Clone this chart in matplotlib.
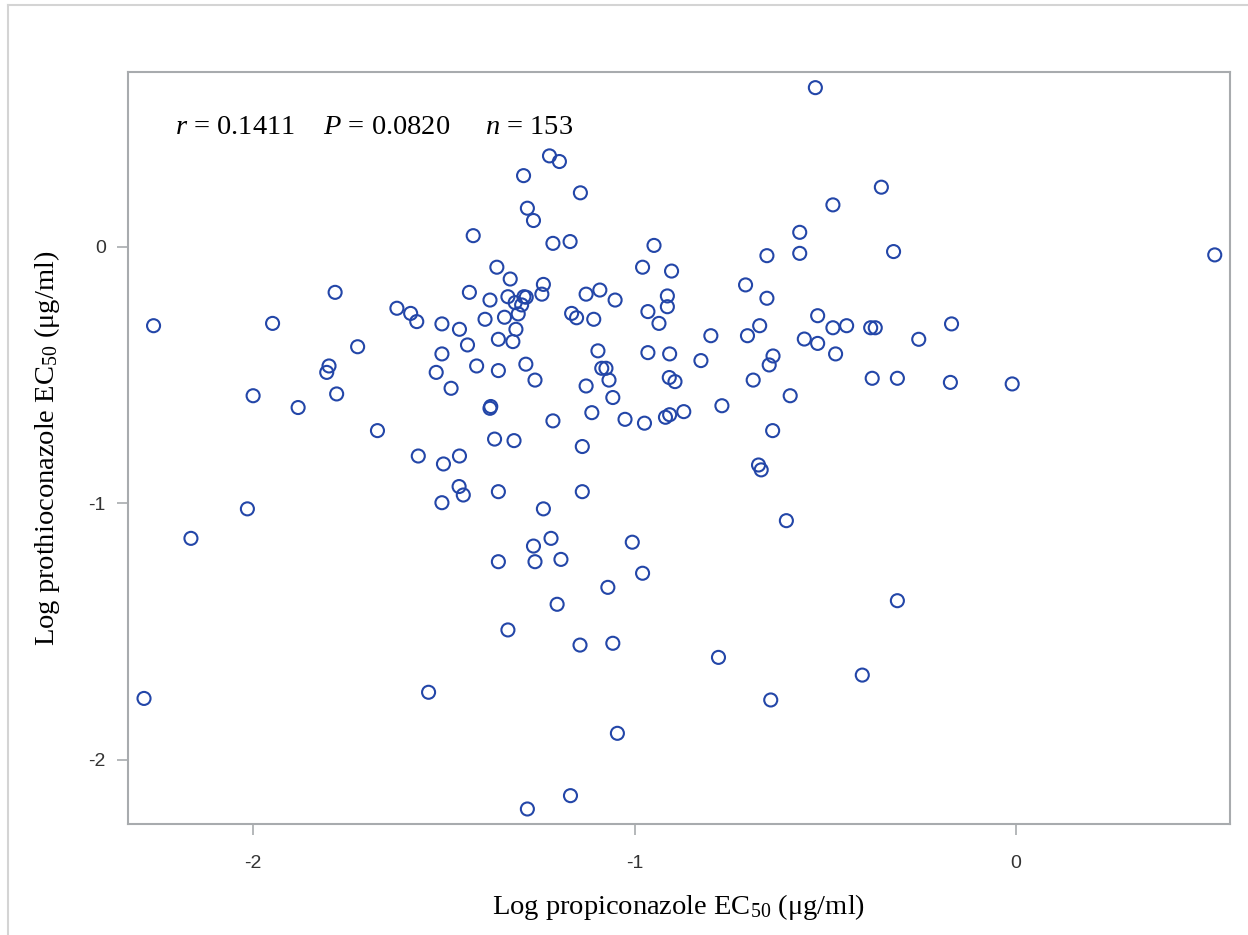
import matplotlib
matplotlib.use("Agg")
import matplotlib.pyplot as plt
from matplotlib.lines import Line2D

# Log propiconazole EC50 (x) and log prothioconazole EC50 (y)
x_vals = [
    -2.261, -1.949, -1.785, -1.726, -1.623, -1.587, -1.571, -1.505, -1.505, -1.459,
    -1.438, -1.433, -1.423, -1.392, -1.379, -1.361, -1.357, -1.341, -1.332, -1.326,
    -1.319, -1.313, -1.311, -1.305, -1.296, -1.290, -1.284, -1.291, -1.281, -1.265,
    -1.243, -1.239, -1.223, -1.214, -1.197, -1.169,
    -1.142, -0.949, -0.979, -0.903, -1.127, -1.091, -1.051, -0.914, -0.914, -0.965,
    -0.936, -1.165, -1.152, -1.107, -1.096, -0.965, -0.908, -0.800, -0.709, -0.653,
    -0.653, -0.704, -0.672, -0.567, -0.567, -0.480, -0.353, -0.321, 0.521, -0.526,
    -0.520, -0.555, -0.520, -0.480, -0.444, -0.381, -0.369, -0.473, -0.255, -0.169,
    -0.826, -0.637, -0.647, -1.086, -1.075, -1.127, -1.067, -1.057, -0.909, -0.894,
    -0.689, -0.592, -0.377, -0.311, -0.172, -0.010, -1.112, -1.025, -0.974, -0.919,
    -0.908, -0.871, -0.771, -0.638, -1.137, -0.675, -0.668, -1.137, -0.602, -1.006,
    -1.193, -0.979, -1.070,
    -1.203, -0.311, -1.143, -1.057, -0.780, -0.403, -0.643, -1.045, -1.168,
    -2.286, -1.540, -1.332, -1.281,
    -1.801, -1.807, -1.520, -1.414, -1.357, -1.285, -1.261, -1.481, -2.000, -1.882,
    -1.781, -1.379, -1.377, -1.214, -1.674, -1.367, -1.316, -1.567, -1.501, -1.459,
    -1.460, -1.449, -1.357, -1.505, -2.015, -1.239, -2.163, -1.265, -1.219, -1.357,
    -1.261,
]
y_vals = [
    -0.307, -0.298, -0.177, -0.389, -0.239, -0.259, -0.291, -0.300, -0.417, -0.321,
    -0.382, -0.177, 0.044, -0.282, -0.207, -0.079, -0.360, -0.274, -0.194, -0.125,
    -0.369, -0.217, -0.321, -0.261, -0.226, -0.194, -0.196, 0.278, 0.151, 0.103,
    -0.184, -0.146, 0.355, 0.014, 0.333, 0.021,
    0.211, 0.006, -0.079, -0.094, -0.184, -0.168, -0.207, -0.191, -0.233, -0.252,
    -0.298, -0.259, -0.276, -0.282, -0.405, -0.412, -0.417, -0.346, -0.148, -0.034,
    -0.200, -0.346, -0.307, 0.057, -0.025, 0.164, 0.233, -0.018, -0.031, 0.621,
    -0.268, -0.359, -0.376, -0.315, -0.307, -0.315, -0.315, -0.417, -0.360, -0.300,
    -0.443, -0.425, -0.460, -0.473, -0.473, -0.542, -0.519, -0.587, -0.509, -0.525,
    -0.519, -0.580, -0.512, -0.512, -0.528, -0.534, -0.646, -0.672, -0.687, -0.664,
    -0.654, -0.642, -0.619, -0.716, -0.778, -0.850, -0.869, -0.954, -1.067, -1.151,
    -1.218, -1.272, -1.327,
    -1.393, -1.379, -1.552, -1.545, -1.600, -1.669, -1.766, -1.896, -2.139,
    -1.760, -1.736, -1.493, -2.191,
    -0.464, -0.489, -0.489, -0.464, -0.482, -0.457, -0.519, -0.551, -0.580, -0.626,
    -0.573, -0.629, -0.622, -0.678, -0.716, -0.749, -0.755, -0.815, -0.846, -0.815,
    -0.934, -0.967, -0.954, -0.997, -1.021, -1.021, -1.136, -1.166, -1.136, -1.227,
    -1.227,
]

x_ticks = [-2, -1, 0]
y_ticks = [-2, -1, 0]
x_tick_labels = ["-2", "-1", "0"]
y_tick_labels = ["-2", "-1", "0"]
stats_text = "$r$ = 0.1411    $P$ = 0.0820     $n$ = 153"
x_label = "Log propiconazole EC$_{50}$ (μg/ml)"
y_label = "Log prothioconazole EC$_{50}$ (μg/ml)"

plt.rcParams["mathtext.fontset"] = "custom"
plt.rcParams["mathtext.rm"] = "Liberation Serif"
plt.rcParams["mathtext.it"] = "Liberation Serif:italic"

W, H = 1248, 935
fig = plt.figure(figsize=(W / 100, H / 100), dpi=100)
fig.patch.set_facecolor("white")

# outer frame lines (top and left)
fig.add_artist(Line2D([8 / W, 1], [1 - 5 / H, 1 - 5 / H], color="#d4d4d4", lw=1.5))
fig.add_artist(Line2D([8 / W, 8 / W], [0, 1 - 5 / H], color="#d4d4d4", lw=1.5))

left, right, top, bottom = 128, 1230, 72, 824
ax = fig.add_axes([left / W, 1 - bottom / H, (right - left) / W, (bottom - top) / H])

ax.scatter(x_vals, y_vals, s=88, facecolors="none", edgecolors="#2346A8", linewidths=1.5, zorder=3)

ax.set_xlim(-2.328, 0.561)
ax.set_ylim(-2.2495, 0.682)

ax.set_xticks(x_ticks)
ax.set_xticklabels(x_tick_labels)
ax.set_yticks(y_ticks)
ax.set_yticklabels(y_tick_labels)

for s in ax.spines.values():
    s.set_color("#a8abae")
    s.set_linewidth(1.5)

ax.tick_params(axis="both", direction="out", length=8, width=1.2, color="#a8abae",
               labelsize=14, labelcolor="#333333")
ax.tick_params(axis="x", pad=14)
ax.tick_params(axis="y", pad=8)
for lab in ax.get_xticklabels() + ax.get_yticklabels():
    lab.set_fontfamily("Liberation Sans")

ax.set_xlabel(x_label, fontsize=20.5, family="Liberation Serif", labelpad=15)
ax.set_ylabel(y_label, fontsize=20.5, family="Liberation Serif", labelpad=19)

ax.text(175 / W, 1 - 127 / H, stats_text, transform=fig.transFigure, fontsize=20.5,
        family="Liberation Serif", ha="left", va="center")

fig.savefig("out.png", dpi=100, facecolor="white")
